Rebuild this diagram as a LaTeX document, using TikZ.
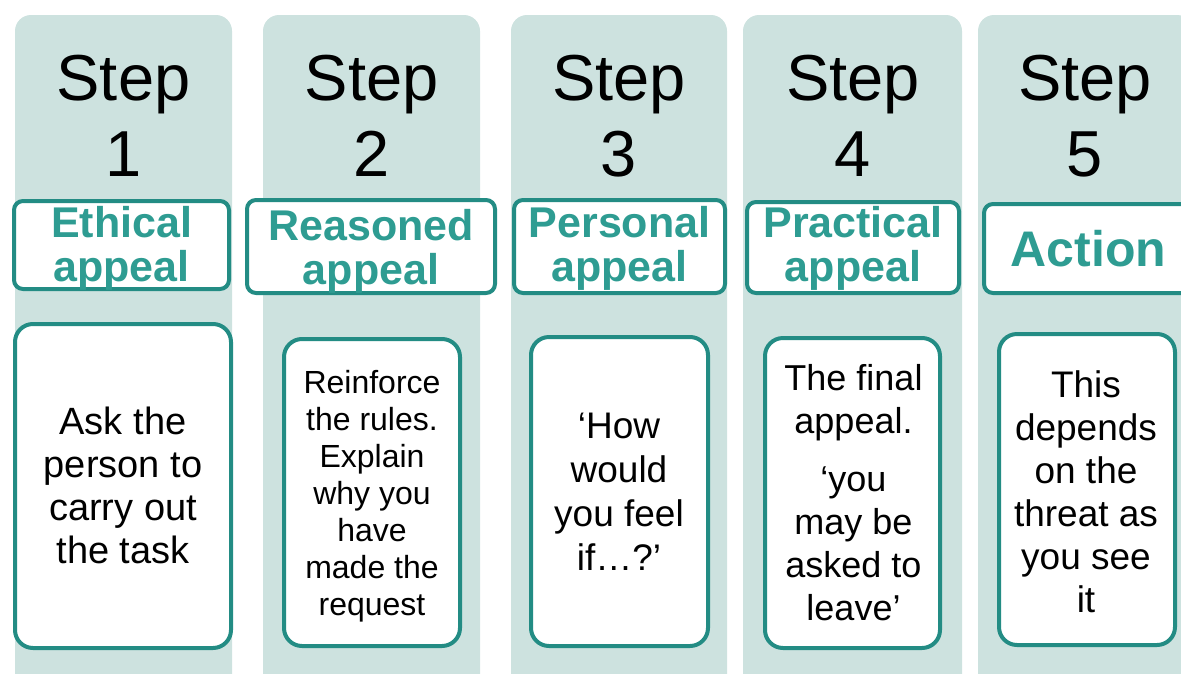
\documentclass[tikz,border=0pt]{standalone}
\usepackage{fontspec}
\setmainfont{Liberation Sans}
\definecolor{colbg}{HTML}{CDE2DF}
\definecolor{tealline}{HTML}{238C84}
\definecolor{tealtext}{HTML}{2E9C92}
\begin{document}
\begin{tikzpicture}[x=1pt,y=-1pt,
  column/.style={fill=colbg, rounded corners=16pt, draw=none},
  headbox/.style={draw=tealline, line width=4pt, fill=white, rounded corners=9pt, inner sep=0pt},
  bodybox/.style={draw=tealline, line width=4pt, fill=white, rounded corners=18pt, inner sep=0pt},
  steptext/.style={font=\fontsize{65}{76}\selectfont, align=center, inner sep=0pt, anchor=north},
  headtext/.style={font=\bfseries\fontsize{43}{44}\selectfont, text=tealtext, align=center, inner sep=0pt, anchor=north},
  bodytext/.style={align=center, inner sep=0pt, anchor=north}]
\useasboundingbox (0,0) rectangle (1181,673);
\begin{scope}
\clip (0,0) rectangle (1181,673);
% columns
\fill[column] (15,15) rectangle (232,720);
\fill[column] (263,15) rectangle (480,720);
\fill[column] (511,15) rectangle (727,720);
\fill[column] (743,15) rectangle (962,720);
\fill[column] (978,15) rectangle (1193,720);
% step titles
\node[steptext] (s1) at (123.5,55) {Step\\1};
\node[steptext] (s2) at (371.5,55) {Step\\2};
\node[steptext] (s3) at (619,55) {Step\\3};
\node[steptext] (s4) at (853,55) {Step\\4};
\node[steptext] (s5) at (1085,55) {Step\\5};
% header boxes
\node[headbox, minimum width=215pt, minimum height=88pt] (h1) at (121.5,245) {};
\node[headbox, minimum width=248pt, minimum height=93pt] (h2) at (371,246.5) {};
\node[headbox, minimum width=211pt, minimum height=93pt] (h3) at (619.5,246.5) {};
\node[headbox, minimum width=212pt, minimum height=91pt] (h4) at (853,247.5) {};
\node[headbox, minimum width=208pt, minimum height=89pt] (h5) at (1088,248.5) {};
\node[headtext] (ht1) at (121.5,206) {Ethical\\appeal};
\node[headtext] (ht2) at (371,209) {Reasoned\\appeal};
\node[headtext] (ht3) at (619.5,206) {Personal\\appeal};
\node[headtext] (ht4) at (853,206) {Practical\\appeal};
\node[headtext, font=\bfseries\fontsize{50}{52}\selectfont] (ht5) at (1088.5,230.5) {Action};
% body boxes
\node[bodybox, minimum width=216pt, minimum height=324pt] (b1) at (123,486) {};
\node[bodybox, minimum width=176pt, minimum height=307pt] (b2) at (372,492.5) {};
\node[bodybox, minimum width=177pt, minimum height=309pt] (b3) at (619.5,491.5) {};
\node[bodybox, minimum width=175pt, minimum height=310pt] (b4) at (852.5,493) {};
\node[bodybox, minimum width=176pt, minimum height=311pt] (b5) at (1087,489.5) {};
\node[bodytext, font=\fontsize{38}{43}\selectfont] (t1) at (123,407) {Ask the\\person to\\carry out\\the task};
\node[bodytext, font=\fontsize{32}{37}\selectfont] (t2) at (372,370) {Reinforce\\the rules.\\Explain\\why you\\have\\made the\\request};
\node[bodytext, font=\fontsize{37}{44}\selectfont] (t3) at (619,413) {‘How\\would\\you feel\\if…?’};
\node[bodytext, font=\fontsize{36}{43}\selectfont] (t4) at (853.5,364) {The final\\appeal.\\[15pt]‘you\\may be\\asked to\\leave’};
\node[bodytext, font=\fontsize{37}{43}\selectfont] (t5) at (1086,370) {This\\depends\\on the\\threat as\\you see\\it};
\end{scope}
\end{tikzpicture}
\end{document}
